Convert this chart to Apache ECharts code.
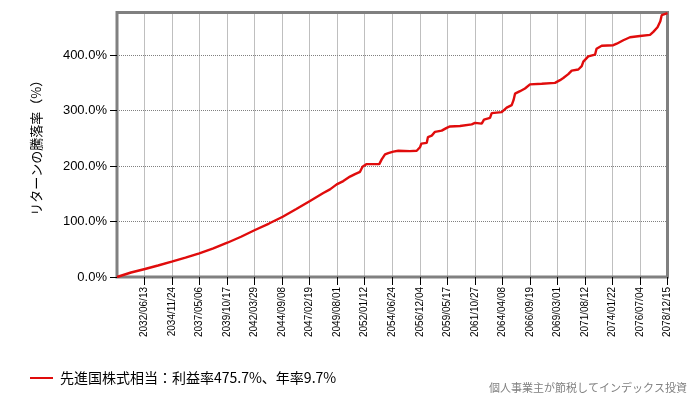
<!DOCTYPE html>
<html>
<head>
<meta charset="utf-8">
<style>html,body{margin:0;padding:0;background:#fff}#c{width:697px;height:400px}</style>
<script src="https://cdn.jsdelivr.net/npm/echarts@6/dist/echarts.min.js"></script>
</head>
<body>
<div id="c"></div>
<script>
// days since 2030/01/01
const dayOffsets = [0,455,909,1332,1777,2225,2673,3128,3583,4028,4482,4937,5382,5824,6269,6701,6918,7136,7350,7568,7730,7893,7941,7974,8110,8519,8597,8705,8812,8974,9137,9517,9734,9841,9884,10059,10101,10222,10329,10546,10709,10816,11141,11521,11628,11846,11920,12115,12170,12495,12658,12820,12879,12928,13090,13252,13414,13794,14226,14389,14496,14658,14769,14983,15094,15146,15308,15526,15575,15743,16120,16231,16445,16662,16987,17312,17419,17556,17647,17692,17880];
const returnPct = [0,8.1,14.4,20.7,27.6,34.8,42.7,51.7,61.8,72.6,84.7,96.4,108.6,122.5,136.9,151.4,158.0,167.0,173.0,181.1,185.6,189.7,191.0,198.7,203.6,203.6,212.1,221.1,223.4,226.1,227.6,227.0,227.6,233.9,240.5,241.8,252.3,255.0,261.8,264.0,269.0,271.5,272.4,275.3,278.0,276.6,283.8,286.8,295.5,297.3,305.4,309.9,318.9,330.6,335.1,340.0,347.4,348.6,350.1,355.0,358.9,365.8,372.1,374.2,380.2,388.3,397.8,400.9,411.7,417.1,418.0,420.7,427.0,432.4,434.6,436.6,442.0,450.5,461.3,472.1,475.7];
const tickLabels = ['2032/06/13','2034/11/24','2037/05/06','2039/10/17','2042/03/29','2044/09/08','2047/02/19','2049/08/01','2052/01/12','2054/06/24','2056/12/04','2059/05/17','2061/10/27','2064/04/08','2066/09/19','2069/03/01','2071/08/12','2074/01/22','2076/07/04','2078/12/15'];
const yTicks = [0,100,200,300,400];
const seriesName = '先進国株式相当：利益率475.7%、年率9.7%';
const tickStep = 894;
const xTicks = tickLabels.map((_, i) => (i + 1) * tickStep);

const chart = echarts.init(document.getElementById('c'), null, {renderer: 'canvas'});
chart.setOption({
  animation: false,
  backgroundColor: '#fff',
  grid: {left: 117, right: 29.5, top: 12.5, bottom: 123, show: true, borderColor: '#808080', borderWidth: 3, backgroundColor: 'transparent'},
  legend: {
    left: 30, top: 371, padding: 0, itemWidth: 23, itemHeight: 2, itemGap: 10,
    textStyle: {fontFamily: 'Noto Sans CJK JP', fontSize: 14, color: '#000', padding: [0, 0, 0, 2]},
    data: [{name: seriesName, icon: 'rect'}]
  },
  graphic: [{
    type: 'text', right: 10, top: 382,
    style: {text: '個人事業主が節税してインデックス投資', fontFamily: 'Noto Sans CJK JP', fontSize: 11, fill: '#808080'}
  }],
  xAxis: {
    type: 'value', min: 0, max: xTicks[xTicks.length - 1], interval: tickStep,
    axisLine: {show: false},
    axisTick: {show: true, length: 8, lineStyle: {color: '#000'}, customValues: xTicks},
    axisLabel: {
      customValues: xTicks, rotate: 90, margin: 10, fontSize: 10, fontFamily: 'Liberation Sans', color: '#000',
      formatter: v => tickLabels[Math.round(v / tickStep) - 1] || ''
    },
    splitLine: {show: true, lineStyle: {color: '#808080', width: 1, type: [1, 1]}}
  },
  yAxis: {
    type: 'value', min: 0, max: 477, interval: 100,
    name: 'リターンの騰落率（%）', nameLocation: 'middle', nameGap: 74,
    nameTextStyle: {fontFamily: 'Noto Sans CJK JP', fontSize: 13, color: '#000'},
    axisLine: {show: false},
    axisTick: {show: true, length: 7, lineStyle: {color: '#000'}, customValues: yTicks},
    axisLabel: {customValues: yTicks, margin: 10, fontSize: 13, fontFamily: 'Liberation Sans', color: '#000', formatter: v => v.toFixed(1) + '%'},
    splitLine: {show: true, lineStyle: {color: '#808080', width: 1, type: [1, 1]}}
  },
  series: [{
    name: seriesName, type: 'line', symbol: 'none', showSymbol: false,
    lineStyle: {color: '#e00c0c', width: 2.4}, itemStyle: {color: '#e00c0c'},
    data: dayOffsets.map((d, i) => [d, returnPct[i]])
  }]
});
</script>
</body>
</html>
